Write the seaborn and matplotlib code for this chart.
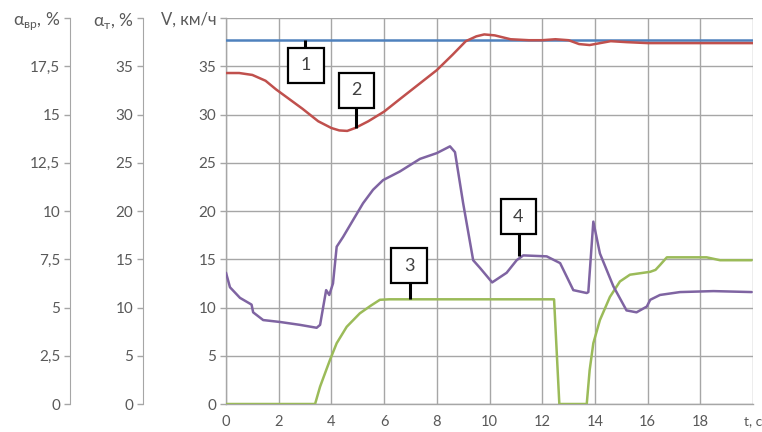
import matplotlib
matplotlib.use("Agg")
import matplotlib.pyplot as plt
from matplotlib.patches import Rectangle
import seaborn as sns
import pandas as pd

# ---------------- data ----------------
t1 = [0, 20]
v1 = [37.7, 37.7]

t2 = [0, 0.5, 1.0, 1.5, 1.9, 2.4, 2.9, 3.5, 4.0, 4.3, 4.6, 4.9, 5.4, 6.0, 6.6, 7.3, 8.0,
      8.6, 9.1, 9.5, 9.8, 10.2, 10.8, 11.5, 12.0, 12.5, 13.0, 13.4, 13.8, 14.2, 14.6,
      15.2, 16.0, 17.0, 18.0, 19.0, 20.0]
v2 = [34.3, 34.3, 34.1, 33.5, 32.6, 31.6, 30.6, 29.3, 28.6, 28.35, 28.3, 28.6, 29.3, 30.3,
      31.6, 33.1, 34.6, 36.2, 37.6, 38.1, 38.3, 38.2, 37.8, 37.7, 37.7, 37.8, 37.7, 37.3,
      37.2, 37.4, 37.6, 37.5, 37.4, 37.4, 37.4, 37.4, 37.4]

t3 = [0, 3.38, 3.57, 3.8, 3.95, 4.2, 4.58, 5.08, 5.5, 5.84, 6.2, 12.45, 12.65, 13.69,
      13.8, 13.94, 14.19, 14.57, 14.95, 15.33, 16.1, 16.3, 16.47, 16.73, 18.24, 18.75, 19.95]
v3 = [0, 0, 1.8, 3.5, 4.6, 6.3, 8.0, 9.4, 10.2, 10.8, 10.85, 10.85, 0, 0,
      3.5, 6.3, 8.7, 11.1, 12.7, 13.4, 13.7, 13.9, 14.4, 15.2, 15.2, 14.9, 14.9]

t4 = [0, 0.15, 0.53, 0.97, 1.03, 1.41, 2.05, 2.81, 3.44, 3.57, 3.8, 3.92, 4.06, 4.2, 4.44,
      4.83, 5.2, 5.58, 5.96, 6.6, 7.36, 8.0, 8.5, 8.69, 9.0, 9.38, 9.64, 10.1, 10.65, 11.03,
      11.28, 12.17, 12.68, 13.18, 13.69, 13.75, 13.94, 14.19, 14.7, 15.2, 15.58, 15.97,
      16.1, 16.47, 17.23, 18.5, 19.95]
v4 = [13.6, 12.1, 11.0, 10.3, 9.5, 8.7, 8.5, 8.2, 7.9, 8.2, 11.8, 11.3, 12.5, 16.3, 17.3,
      19.1, 20.8, 22.2, 23.2, 24.1, 25.4, 26.0, 26.7, 26.1, 20.8, 14.9, 14.1, 12.6, 13.6, 14.9,
      15.4, 15.3, 14.6, 11.8, 11.5, 11.6, 18.9, 15.6, 12.2, 9.7, 9.5, 10.1,
      10.8, 11.3, 11.6, 11.7, 11.6]

x_ticks = [0, 2, 4, 6, 8, 10, 12, 14, 16, 18, 20]
x_labels = ["0", "2", "4", "6", "8", "10", "12", "14", "16", "18", "t, c"]
v_ticks = [0, 5, 10, 15, 20, 25, 30, 35, 40]
v_labels = ["0", "5", "10", "15", "20", "25", "30", "35", "V, км/ч"]
at_ticks = [0, 5, 10, 15, 20, 25, 30, 35, 40]
at_labels = ["0", "5", "10", "15", "20", "25", "30", "35", r"α$_{\mathregular{т}}$, %"]
avr_ticks = [0, 2.5, 5, 7.5, 10, 12.5, 15, 17.5, 20]
avr_labels = ["0", "2,5", "5", "7,5", "10", "12,5", "15", "17,5", r"α$_{\mathregular{вр}}$, %"]

# callout boxes: label, box centre (t, v), curve point (t, v)
box_labels = ["1", "2", "3", "4"]
box_centres = [(3.02, 35.1), (4.95, 32.5), (6.96, 14.35), (11.1, 19.4)]
box_targets = [(3.0, 37.7), (4.93, 28.6), (6.98, 10.85), (11.13, 15.35)]

colors = ["#4f81bd", "#c0504d", "#9bbb59", "#7f64a2"]

# ---------------- style ----------------
sns.set_style("white")
plt.rcParams["font.family"] = ["Lato", "Noto Sans", "DejaVu Sans"]
plt.rcParams["mathtext.fontset"] = "dejavusans"

grey_txt = "#595959"
grey_line = "#a6a6a6"

fig = plt.figure(figsize=(7.62, 4.32), dpi=100)
ax = fig.add_axes([0.2966, 0.0648, 0.6916, 0.8935])

series = [(t1, v1), (t2, v2), (t3, v3), (t4, v4)]
for (tt, vv), c in zip(series, colors):
    df = pd.DataFrame({"t": tt, "v": vv})
    sns.lineplot(data=df, x="t", y="v", ax=ax, color=c, lw=1.8, estimator=None,
                 sort=False, zorder=3)

ax.set_xlim(0, 20)
ax.set_ylim(0, 40)
ax.set_xticks(x_ticks)
ax.set_xticklabels(x_labels)
ax.set_yticks(v_ticks)
ax.set_yticklabels(v_labels)
ax.set_xlabel("")
ax.set_ylabel("")
ax.grid(True, color=grey_line, lw=1.0)
ax.set_axisbelow(True)
for s in ["top", "right"]:
    ax.spines[s].set_visible(False)
for s in ["left", "bottom"]:
    ax.spines[s].set_color(grey_line)
    ax.spines[s].set_linewidth(1.0)
ax.tick_params(axis="both", direction="out", length=4, width=1, color=grey_line,
               labelcolor=grey_txt, labelsize=11, pad=3)
ax.tick_params(axis="x", pad=4, labelsize=10.5)
ax.get_yticklabels()[-1].set_fontsize(12)
ax.get_xticklabels()[-1].set_fontsize(10)

# extra left axes
for pos, ticks, labels, lim in [(-0.1575, at_ticks, at_labels, 40),
                                (-0.296, avr_ticks, avr_labels, 20)]:
    a2 = ax.twinx()
    a2.set_ylim(0, lim)
    a2.spines["right"].set_visible(False)
    a2.spines["top"].set_visible(False)
    a2.spines["bottom"].set_visible(False)
    a2.spines["left"].set_visible(True)
    a2.spines["left"].set_position(("axes", pos))
    a2.spines["left"].set_color(grey_line)
    a2.yaxis.set_ticks_position("left")
    a2.yaxis.set_label_position("left")
    a2.set_yticks(ticks)
    a2.set_yticklabels(labels)
    a2.tick_params(axis="y", direction="out", length=4, width=1, color=grey_line,
                   labelcolor=grey_txt, labelsize=11, pad=3)
    a2.get_yticklabels()[-1].set_fontsize(12.5)
    a2.grid(False)

# callouts
bw, bh = 1.36, 3.65
for lab, (cx, cy), (tx, ty) in zip(box_labels, box_centres, box_targets):
    edge_y = cy + bh / 2 if ty > cy else cy - bh / 2
    ax.plot([tx, tx], [edge_y, ty], color="black", lw=2.2, zorder=5, solid_capstyle="butt")
    ax.add_patch(Rectangle((cx - bw / 2, cy - bh / 2), bw, bh, fc="white", ec="black",
                           lw=1.6, zorder=6))
    ax.text(cx, cy, lab, ha="center", va="center", fontsize=13, color="#404040", zorder=7)

fig.savefig("out.png", dpi=100)
